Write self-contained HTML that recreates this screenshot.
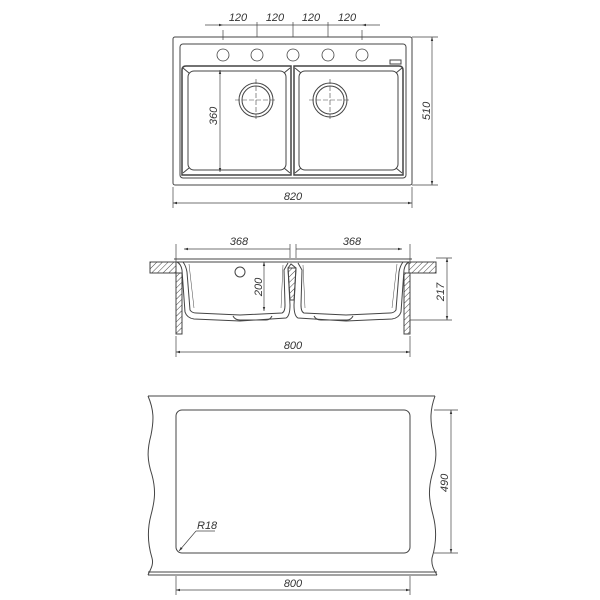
<!DOCTYPE html>
<html><head><style>html,body{margin:0;padding:0;background:#fff}svg{display:block}text{font-family:"Liberation Sans",sans-serif;font-style:italic;font-size:11px;fill:#333}</style></head>
<body>
<svg width="600" height="600" viewBox="0 0 600 600" xmlns="http://www.w3.org/2000/svg">
<defs>
<pattern id="h" width="4" height="4" patternUnits="userSpaceOnUse" patternTransform="rotate(45)"><line x1="0" y1="0" x2="0" y2="4" stroke="#444" stroke-width="1"/></pattern>
<marker id="a" viewBox="0 0 10 10" refX="10" refY="5" markerWidth="6" markerHeight="6" orient="auto-start-reverse"><path d="M0,2 L10,5 L0,8" fill="#333"/></marker>
</defs>
<g fill="none" stroke="#444" stroke-width="1">
<rect x="173" y="37" width="239" height="148" rx="2"/>
<rect x="180" y="44" width="226" height="134" rx="3"/>
<g stroke-width="0.8">
<circle cx="223" cy="55" r="6"/><circle cx="257" cy="55" r="6"/><circle cx="293" cy="55" r="6"/><circle cx="328" cy="55" r="6"/><circle cx="362" cy="55" r="6"/>
</g>
<rect x="390" y="60" width="11" height="4"/>
<path d="M182,175 V70 Q182,66 186,66 H291 V175 Z" stroke-width="1.5"/>
<path d="M294,175 V66 H399 Q403,66 403,70 V175 Z" stroke-width="1.5"/>
<rect x="188" y="71" width="98" height="99" rx="6"/>
<rect x="299" y="71" width="99" height="99" rx="6"/>
<path d="M183,68 l6,5 M290,68 l-6,5 M183,173 l6,-5 M290,173 l-6,-5 M295,68 l6,5 M402,68 l-6,5 M295,173 l6,-5 M402,173 l-6,-5"/>
<circle cx="256" cy="100" r="17"/><circle cx="256" cy="100" r="14"/>
<circle cx="330" cy="100" r="17"/><circle cx="330" cy="100" r="14"/>
<g stroke-dasharray="5,2" stroke-width="0.6"><path d="M235,100 H277 M256,79 V121 M309,100 H351 M330,79 V121"/></g>
<g stroke-width="0.7">
<path d="M223,30 V40 M257,22 V37 M293,22 V37 M328,22 V37 M362,30 V40"/>
<line x1="205" y1="25" x2="223" y2="25" marker-end="url(#a)"/>
<line x1="223" y1="25" x2="362" y2="25"/>
<line x1="380" y1="25" x2="362" y2="25" marker-end="url(#a)"/>
<path d="M412,37 H438 M412,185 H438 M173,187 V208 M412,187 V208"/>
<line x1="432" y1="37" x2="432" y2="185" marker-start="url(#a)" marker-end="url(#a)"/>
<line x1="173" y1="203" x2="412" y2="203" marker-start="url(#a)" marker-end="url(#a)"/>
<line x1="220" y1="70" x2="220" y2="172" marker-start="url(#a)" marker-end="url(#a)"/>
</g>
<rect x="150" y="262" width="26" height="11" fill="url(#h)"/>
<rect x="409" y="262" width="27" height="11" fill="url(#h)"/>
<rect x="176" y="273" width="6" height="61" fill="url(#h)"/>
<rect x="404" y="273" width="6" height="61" fill="url(#h)"/>
<path d="M174,259 H412 M176,262 H410"/>
<path d="M177,262 Q181,264 182,270 L185,312 Q187,318 194,319 L240,321 L286,318 Q290,316 290,305 L288,268 L291,264 L296,268 L294,305 Q294,316 298,318 L346,321 L392,319 Q399,318 401,312 L404,270 Q405,264 409,262"/>
<path d="M183,262 Q186,266 187,272 L190,310 Q192,313 196,313 L240,315 L282,313 Q285,312 285,305 L284,270 L288,263 M298,263 L302,270 L301,305 Q301,312 304,313 L346,315 L390,313 Q394,313 396,310 L399,272 Q400,266 403,262"/>
<path d="M189,264 L194,308 M283,265 L281,308 M303,265 L305,308 M397,264 L392,308" stroke-width="0.5"/>
<path d="M288,268 L296,268 L294,300 L290,300 Z" fill="url(#h)"/>
<path d="M233,316 Q235,320 240,320 L266,320 Q270,320 272,316 M314,316 Q316,320 321,320 L347,320 Q351,320 353,316"/>
<circle cx="240" cy="272" r="5"/>
<g stroke-width="0.7">
<path d="M176,244 V262 M410,244 V262 M290,244 V258 M296,244 V258"/>
<line x1="184" y1="249" x2="290" y2="249" marker-start="url(#a)"/>
<line x1="296" y1="249" x2="402" y2="249" marker-end="url(#a)"/>
<line x1="264" y1="262" x2="264" y2="311" marker-start="url(#a)" marker-end="url(#a)"/>
<path d="M436,258 H452 M410,320 H452 M176,336 V357 M410,336 V357"/>
<line x1="447" y1="258" x2="447" y2="320" marker-start="url(#a)" marker-end="url(#a)"/>
<line x1="176" y1="352" x2="410" y2="352" marker-start="url(#a)" marker-end="url(#a)"/>
</g>
<path d="M148,396 H435 M148,572 H437 M148,575 H437" />
<path d="M148,396 C154,410 154,420 151,435 C147,450 147,460 152,475 C156,490 155,500 151,515 C147,530 148,545 152,558 C154,565 150,570 148,575"/>
<path d="M435,396 C430,410 430,420 433,435 C437,450 437,460 432,475 C428,490 429,500 433,515 C437,530 436,545 432,558 C431,565 434,570 437,575"/>
<rect x="176" y="410" width="234" height="143" rx="6"/>
<g stroke-width="0.7">
<path d="M434,410 H458 M434,553 H458 M176,576 V595 M410,576 V595"/>
<line x1="451" y1="410" x2="451" y2="553" marker-start="url(#a)" marker-end="url(#a)"/>
<line x1="176" y1="590" x2="410" y2="590" marker-start="url(#a)" marker-end="url(#a)"/>
<path d="M215,531 H196"/>
<line x1="196" y1="531" x2="179" y2="551" marker-end="url(#a)"/>
</g>
</g>
<text x="238" y="21" text-anchor="middle">120</text>
<text x="275" y="21" text-anchor="middle">120</text>
<text x="311" y="21" text-anchor="middle">120</text>
<text x="347" y="21" text-anchor="middle">120</text>
<text x="293" y="200" text-anchor="middle">820</text>
<text transform="translate(430,111) rotate(-90)" text-anchor="middle">510</text>
<text transform="translate(217,116) rotate(-90)" text-anchor="middle">360</text>
<text x="239" y="245" text-anchor="middle">368</text>
<text x="352" y="245" text-anchor="middle">368</text>
<text transform="translate(262,287) rotate(-90)" text-anchor="middle">200</text>
<text transform="translate(444,292) rotate(-90)" text-anchor="middle">217</text>
<text x="293" y="349" text-anchor="middle">800</text>
<text transform="translate(448,483) rotate(-90)" text-anchor="middle">490</text>
<text x="293" y="587" text-anchor="middle">800</text>
<text x="197" y="529">R18</text>
</svg>
</body></html>
